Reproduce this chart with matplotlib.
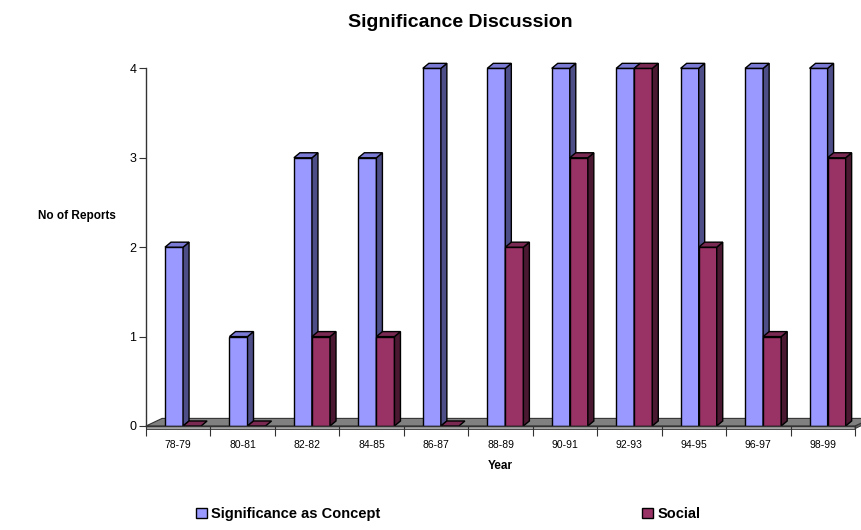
import numpy as np
import matplotlib
matplotlib.use("Agg")
import matplotlib.pyplot as plt
from matplotlib.patches import Polygon, Rectangle

plt.rcParams['font.family'] = ['Liberation Sans', 'DejaVu Sans']

years = ['78-79', '80-81', '82-82', '84-85', '86-87', '88-89',
         '90-91', '92-93', '94-95', '96-97', '98-99']
concept = [2, 1, 3, 3, 4, 4, 4, 4, 4, 4, 4]
social = [0, 0, 1, 1, 0, 2, 3, 4, 2, 1, 3]

series = [
    ('Significance as Concept', concept, '#9999ff', '#7b7bd6', '#4d4d88'),
    ('Social', social, '#993366', '#7a2952', '#4a1830'),
]

fig = plt.figure(figsize=(8.61, 5.30), dpi=100)
ax = fig.add_axes([146 / 861, 104 / 530, 709 / 861, 380 / 530])

x = np.arange(len(years))
bar_w = 0.28
offsets = [-0.205, 0.075]
dx, dy = 0.093, 0.056          # bar depth
fdx, fdy = 0.25, 0.085         # floor depth

# floor slab: thin front edge plus the top face
ax.add_patch(Polygon([(-0.5, -0.03), (10.5, -0.03), (10.5, 0), (-0.5, 0)],
                     closed=True, facecolor='#a6a6a6', edgecolor='#333333',
                     lw=0.6, clip_on=False, zorder=1))
ax.add_patch(Polygon([(10.5, -0.03), (10.5 + fdx, fdy - 0.03),
                      (10.5 + fdx, fdy), (10.5, 0)],
                     closed=True, facecolor='#606060', edgecolor='#333333',
                     lw=0.6, clip_on=False, zorder=1))
ax.add_patch(Polygon([(-0.5, 0), (10.5, 0), (10.5 + fdx, fdy), (-0.5 + fdx, fdy)],
                     closed=True, facecolor='#808080', edgecolor='#333333',
                     lw=0.8, clip_on=False, zorder=1))

for i in range(len(years)):
    for (name, vals, front, top, side), off in zip(series, offsets):
        x0 = x[i] + off
        h = vals[i]
        if h > 0:
            ax.bar(x0, h, width=bar_w, align='edge', color=front,
                   edgecolor='black', lw=1, zorder=2)
            ax.add_patch(Polygon([(x0 + bar_w, 0), (x0 + bar_w + dx, dy),
                                  (x0 + bar_w + dx, h + dy), (x0 + bar_w, h)],
                                 closed=True, facecolor=side, edgecolor='black',
                                 lw=1, zorder=2, clip_on=False))
        ax.add_patch(Polygon([(x0, h), (x0 + bar_w, h),
                              (x0 + bar_w + dx, h + dy), (x0 + dx, h + dy)],
                             closed=True, facecolor=top, edgecolor='black',
                             lw=1, zorder=2, clip_on=False))

handles = [Rectangle((0, 0), 1, 1, facecolor=s[2], edgecolor='black', lw=1)
           for s in series]

ax.set_xlim(-0.5, 10.5)
ax.set_ylim(0, 4.25)

ax.spines['top'].set_visible(False)
ax.spines['right'].set_visible(False)
ax.spines['left'].set_bounds(0, 4)
for s in ('left', 'bottom'):
    ax.spines[s].set_color('#333333')
    ax.spines[s].set_linewidth(1)

ax.set_xticks(np.arange(-0.5, 11, 1))
ax.set_xticklabels([])
ax.set_xticks(x, minor=True)
ax.set_xticklabels(years, minor=True)
ax.tick_params(axis='x', which='major', direction='out', length=7, color='#333333')
ax.tick_params(axis='x', which='minor', length=0, pad=10, labelsize=7.5)

ax.set_yticks([0, 1, 2, 3, 4])
ax.tick_params(axis='y', direction='out', length=5, labelsize=9, pad=2,
               color='#333333')

ax.set_xlabel('Year', fontsize=8.5, fontweight='bold', labelpad=7)
ax.set_ylabel('No of Reports', fontsize=8.5, fontweight='bold', rotation=0,
              ha='center', va='center')
ax.yaxis.set_label_coords(-0.097, 0.553)

fig.text(0.535, 0.958, 'Significance Discussion', ha='center', va='center',
         fontsize=14, fontweight='bold')

fig.legend(handles, [s[0] for s in series], loc='center',
           bbox_to_anchor=(0.5204, 0.03), ncol=2, frameon=False,
           prop={'size': 10.5, 'weight': 'bold'}, handlelength=0.75,
           handleheight=0.75, handletextpad=0.3, columnspacing=17.95)

fig.savefig('out.png', dpi=100)
